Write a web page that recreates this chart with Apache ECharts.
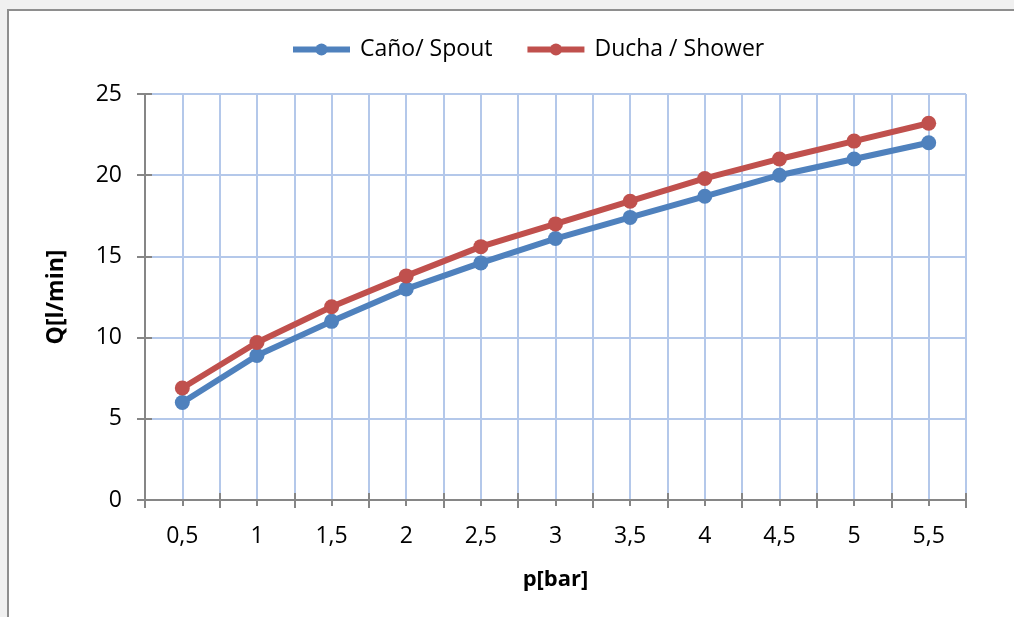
<!DOCTYPE html>
<html>
<head>
<meta charset="utf-8">
<script src="https://cdn.jsdelivr.net/npm/echarts@6/dist/echarts.min.js"></script>
<style>
  html, body { margin: 0; padding: 0; background: #f0f0f0; overflow: hidden; }
  #frame { position: absolute; left: 7px; top: 9px; width: 1020px; height: 620px; background: #fff; border: 2px solid #8e8e8e; }
  #main { position: absolute; left: 0; top: 0; width: 1014px; height: 617px; }
</style>
</head>
<body>
<div id="frame"></div>
<div id="main"></div>
<script>
// presión en bar
var pressures = [0.5, 1, 1.5, 2, 2.5, 3, 3.5, 4, 4.5, 5, 5.5];
var spoutValues = [6.0, 8.9, 11.0, 13.0, 14.6, 16.1, 17.4, 18.7, 20.0, 21.0, 22.0];
var showerValues = [6.9, 9.7, 11.9, 13.8, 15.6, 17.0, 18.4, 19.8, 21.0, 22.1, 23.2];
var yTicks = [0, 5, 10, 15, 20, 25];

var FONT = '"Open Sans", "Noto Sans", sans-serif';

function pairs(vals) {
    return pressures.map(function (p, i) { return [p, vals[i]]; });
}

function fmtX(v) {
    var r = Math.round(v * 100) / 100;
    if (Math.round(r * 4) % 2 !== 0) return '';
    return String(r).replace('.', ',');
}

var chart = echarts.init(document.getElementById('main'));

var option = {
    backgroundColor: 'transparent',
    animation: false,
    legend: {
        top: 38,
        left: 290,
        padding: 0,
        itemWidth: 57,
        itemHeight: 15,
        itemGap: 32,
        lineStyle: { width: 6 },
        textStyle: { fontFamily: FONT, fontSize: 23, color: '#000', padding: [0, 0, 0, 5] },
        data: ['Caño/ Spout', 'Ducha / Shower']
    },
    grid: { left: 145, right: 48, top: 94, bottom: 117 },
    xAxis: [
        {
            type: 'value',
            min: 0.25,
            max: 5.75,
            interval: 0.25,
            name: 'p[bar]',
            nameLocation: 'middle',
            nameGap: 69,
            nameTextStyle: { fontFamily: FONT, fontSize: 22, fontWeight: 'bold', color: '#000' },
            axisLine: { lineStyle: { color: '#868686', width: 2 } },
            axisTick: { show: true, length: 6, lineStyle: { color: '#868686', width: 2 } },
            axisLabel: {
                margin: 25,
                fontFamily: FONT, fontSize: 23, color: '#000',
                showMinLabel: true, showMaxLabel: true,
                formatter: fmtX
            },
            splitLine: { show: true, lineStyle: { color: '#b4c8ea', width: 2 } }
        },
        {
            type: 'value',
            min: 0.25,
            max: 5.75,
            interval: 0.5,
            position: 'bottom',
            axisLine: { show: false },
            axisTick: { show: true, length: 8, lineStyle: { color: '#868686', width: 2 } },
            axisLabel: { show: false },
            splitLine: { show: false }
        },
        {
            type: 'value',
            min: 0.25,
            max: 5.75,
            interval: 0.5,
            position: 'bottom',
            axisLine: { show: false },
            axisTick: { show: true, inside: true, length: 7, lineStyle: { color: '#868686', width: 2 } },
            axisLabel: { show: false },
            splitLine: { show: false }
        }
    ],
    yAxis: [
        {
            type: 'value',
            min: yTicks[0],
            max: yTicks[yTicks.length - 1],
            interval: 5,
            name: 'Q[l/min]',
            nameLocation: 'middle',
            nameGap: 77,
            nameRotate: 90,
            nameTextStyle: { fontFamily: FONT, fontSize: 23, fontWeight: 'bold', color: '#000' },
            axisLine: { show: true, lineStyle: { color: '#868686', width: 2 } },
            axisTick: { show: true, length: 8, lineStyle: { color: '#868686', width: 2 } },
            axisLabel: { margin: 23, fontFamily: FONT, fontSize: 23, color: '#000' },
            splitLine: { show: true, lineStyle: { color: '#b4c8ea', width: 2 } }
        },
        {
            type: 'value',
            min: yTicks[0],
            max: yTicks[yTicks.length - 1],
            interval: 5,
            position: 'left',
            axisLine: { show: false },
            axisTick: { show: true, inside: true, length: 7, lineStyle: { color: '#868686', width: 2 } },
            axisLabel: { show: false },
            splitLine: { show: false }
        }
    ],
    series: [
        {
            name: 'Caño/ Spout',
            type: 'line',
            data: pairs(spoutValues),
            symbol: 'circle',
            symbolSize: 15,
            color: '#4f81bd',
            lineStyle: { width: 6, color: '#4f81bd' },
            itemStyle: { color: '#4f81bd' },
            z: 3
        },
        {
            name: 'Ducha / Shower',
            type: 'line',
            data: pairs(showerValues),
            symbol: 'circle',
            symbolSize: 15,
            color: '#c0504d',
            lineStyle: { width: 6, color: '#c0504d' },
            itemStyle: { color: '#c0504d' },
            z: 3
        }
    ]
};

chart.setOption(option);
</script>
</body>
</html>
